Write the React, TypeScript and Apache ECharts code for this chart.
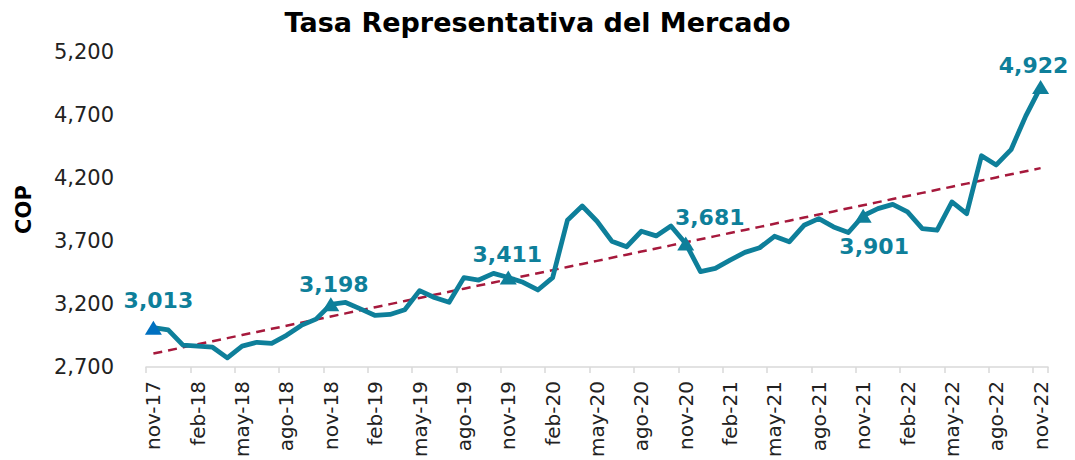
import React, { useEffect, useRef } from "react";
import * as echarts from "echarts";

const months = [
  "nov-17", "dic-17", "ene-18", "feb-18", "mar-18", "abr-18", "may-18", "jun-18", "jul-18", "ago-18", "sep-18", "oct-18",
  "nov-18", "dic-18", "ene-19", "feb-19", "mar-19", "abr-19", "may-19", "jun-19", "jul-19", "ago-19", "sep-19", "oct-19",
  "nov-19", "dic-19", "ene-20", "feb-20", "mar-20", "abr-20", "may-20", "jun-20", "jul-20", "ago-20", "sep-20", "oct-20",
  "nov-20", "dic-20", "ene-21", "feb-21", "mar-21", "abr-21", "may-21", "jun-21", "jul-21", "ago-21", "sep-21", "oct-21",
  "nov-21", "dic-21", "ene-22", "feb-22", "mar-22", "abr-22", "may-22", "jun-22", "jul-22", "ago-22", "sep-22", "oct-22",
  "nov-22",
];

const trm = [
  3013, 2996, 2874, 2866, 2858, 2773, 2866, 2897, 2889, 2952, 3031, 3081,
  3198, 3213, 3162, 3110, 3118, 3155, 3307, 3252, 3215, 3410, 3391, 3444,
  3411, 3373, 3312, 3410, 3865, 3978, 3857, 3699, 3655, 3778, 3741, 3820,
  3681, 3457, 3483, 3549, 3610, 3647, 3738, 3694, 3825, 3878, 3812, 3768,
  3901, 3957, 3991, 3931, 3799, 3786, 4010, 3917, 4377, 4304, 4425, 4693,
  4922,
];

const yTicks = [2700, 3200, 3700, 4200, 4700, 5200];

const TEAL = "#0E7F9A";
const BLUE = "#0070C0";
const RED = "#A6193C";

// label offsets for the highlighted points (styling only)
const labelStyle: Record<string, { position: string; offset: number[] }> = {
  "nov-17": { position: "top", offset: [5, -4] },
  "nov-18": { position: "top", offset: [3, 3] },
  "nov-19": { position: "top", offset: [-1, 0] },
  "nov-20": { position: "top", offset: [24, -3] },
  "nov-21": { position: "bottom", offset: [11, 8] },
  "nov-22": { position: "top", offset: [-7, 1] },
};

function linearFit(values: number[]): number[] {
  const n = values.length;
  let sx = 0, sy = 0, sxx = 0, sxy = 0;
  values.forEach((v, i) => {
    sx += i; sy += v; sxx += i * i; sxy += i * v;
  });
  const b = (n * sxy - sx * sy) / (n * sxx - sx * sx);
  const a = (sy - b * sx) / n;
  return values.map((_, i) => a + b * i);
}

export default function App() {
  const ref = useRef<HTMLDivElement>(null);
  useEffect(() => {
    if (!ref.current) return;
    const chart = echarts.init(ref.current, null, { renderer: "svg" });
    const trend = linearFit(trm);
    const markData = trm.map((v, i) => {
      const m = months[i];
      if (!m.startsWith("nov")) return "-";
      const ls = labelStyle[m];
      return {
        value: v,
        itemStyle: { color: i === 0 ? BLUE : TEAL, opacity: 1 },
        label: {
          show: true,
          position: ls.position,
          offset: ls.offset,
          formatter: (p: any) => Number(p.value).toLocaleString("en-US"),
        },
      };
    });
    chart.setOption({
      animation: false,
      title: {
        text: "Tasa Representativa del Mercado",
        left: "center",
        top: 4,
        textStyle: { fontFamily: "DejaVu Sans", fontWeight: "bold", fontSize: 27, color: "#000" },
      },
      grid: { left: 146, right: 27, top: 52, bottom: 91 },
      xAxis: {
        type: "category",
        data: months,
        boundaryGap: true,
        axisLine: { lineStyle: { color: "#D9D9D9", width: 1.5 } },
        axisTick: { show: true, interval: 2, length: 6, lineStyle: { color: "#D9D9D9", width: 1.5 } },
        axisLabel: {
          interval: 2,
          rotate: 90,
          margin: 14,
          fontFamily: "DejaVu Sans",
          fontSize: 20,
          color: "#222",
        },
      },
      yAxis: {
        type: "value",
        min: yTicks[0],
        max: yTicks[yTicks.length - 1],
        interval: 500,
        name: "COP",
        nameLocation: "middle",
        nameGap: 112,
        nameRotate: 90,
        nameTextStyle: { fontFamily: "DejaVu Sans", fontWeight: "bold", fontSize: 21, color: "#000" },
        splitLine: { show: false },
        axisLine: { show: false },
        axisTick: { show: false },
        axisLabel: {
          margin: 32,
          fontFamily: "DejaVu Sans",
          fontSize: 21,
          color: "#222",
          formatter: (v: number) => v.toLocaleString("en-US"),
        },
      },
      series: [
        {
          type: "line",
          data: trend,
          symbol: "none",
          lineStyle: { color: RED, width: 2.5, type: [9, 6] },
          z: 2,
          silent: true,
        },
        {
          type: "line",
          data: trm,
          symbol: "none",
          lineStyle: { color: TEAL, width: 4.8, join: "round" },
          z: 3,
        },
        {
          type: "scatter",
          data: markData,
          symbol: "triangle",
          symbolSize: [17, 14],
          z: 4,
          itemStyle: { opacity: 1 },
          label: {
            fontFamily: "DejaVu Sans",
            fontWeight: "bold",
            fontSize: 22,
            color: TEAL,
            opacity: 1,
          },
        },
      ],
    });
    return () => chart.dispose();
  }, []);
  return <div ref={ref} style={{ width: 1075, height: 460, marginLeft: -8, marginTop: -8 }} />;
}
